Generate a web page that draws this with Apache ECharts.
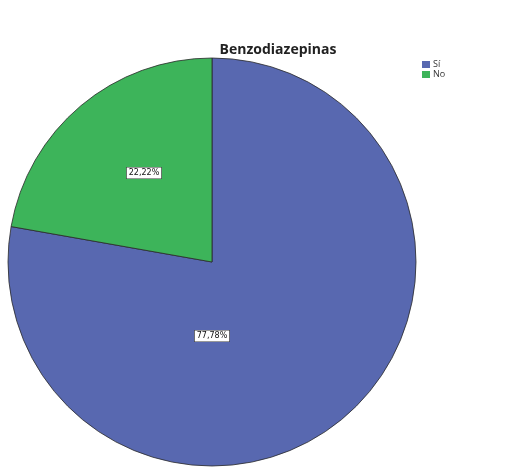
<!DOCTYPE html>
<html>
<head>
<meta charset="utf-8">
<script src="https://cdn.jsdelivr.net/npm/echarts@6/dist/echarts.min.js"></script>
<style>
  html, body { margin: 0; padding: 0; background: #fff; }
  #chart { width: 522px; height: 468px; }
</style>
</head>
<body>
<div id="chart"></div>
<script>
// Categories and their shares (percent)
const categories = ['Sí', 'No'];
const shares = [77.78, 22.22];
const sliceColors = ['#5868b0', '#3db45a'];
const chartTitle = 'Benzodiazepinas';

// Label anchor points (pixels) for each slice
const labelSpots = [[212, 336], [144, 173]];

const chart = echarts.init(document.getElementById('chart'), null, { renderer: 'canvas' });

chart.setOption({
  animation: false,
  backgroundColor: '#ffffff',
  title: {
    text: chartTitle,
    left: 273,
    top: 38,
    textAlign: 'center',
    textStyle: {
      fontFamily: 'Open Sans',
      fontWeight: 'bold',
      fontSize: 14,
      color: '#222'
    }
  },
  legend: {
    orient: 'vertical',
    left: 417,
    top: 55,
    itemWidth: 8,
    itemHeight: 7,
    itemGap: 1,
    icon: 'rect',
    data: categories,
    itemStyle: { borderWidth: 0 },
    textStyle: { fontFamily: 'Open Sans', fontSize: 9, lineHeight: 8, color: '#333', padding: [0, 0, 0, -2] }
  },
  series: [{
    type: 'pie',
    center: [212, 262],
    radius: 204,
    startAngle: 90,
    clockwise: true,
    data: categories.map((c, i) => ({
      name: c,
      value: shares[i],
      itemStyle: { color: sliceColors[i] }
    })),
    itemStyle: { borderColor: '#2a2a2a', borderWidth: 0.8 },
    emphasis: { disabled: true },
    label: {
      show: true,
      position: 'inside',
      formatter: p => p.value.toFixed(2).replace('.', ',') + '%',
      fontFamily: 'DejaVu Sans',
      fontSize: 8,
      color: '#111',
      backgroundColor: '#ffffff',
      borderColor: '#333',
      borderWidth: 0.6,
      padding: [2, 2, 1, 2]
    },
    labelLayout: p => ({
      x: labelSpots[p.dataIndex][0],
      y: labelSpots[p.dataIndex][1],
      align: 'center',
      verticalAlign: 'middle'
    })
  }]
});
</script>
</body>
</html>
